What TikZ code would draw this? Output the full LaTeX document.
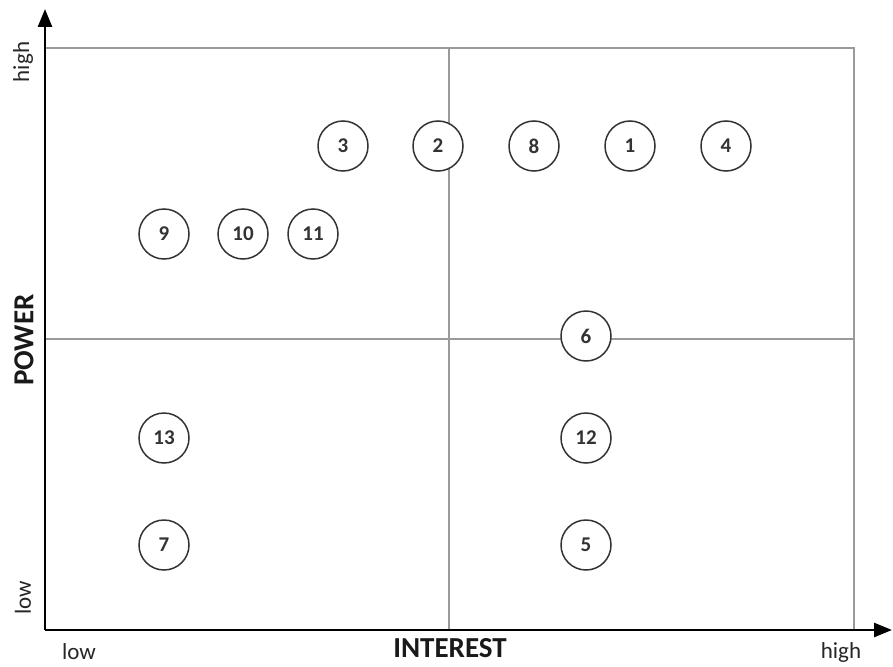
\documentclass[tikz,border=0pt]{standalone}
\usepackage{fontspec}
\setmainfont{Carlito}
\usetikzlibrary{arrows.meta}
\definecolor{gridgray}{HTML}{9A9A9A}
\definecolor{circgray}{HTML}{333333}
\begin{document}
\begin{tikzpicture}[x=1pt,y=-1pt,
  axis/.style={line width=2.6pt,-{Triangle[length=18pt,width=14pt]}},
  gridline/.style={line width=1.8pt,draw=gridgray},
  stake/.style={circle,draw=circgray,line width=1.5pt,fill=white,minimum size=50pt,inner sep=0pt,font=\fontsize{21}{21}\selectfont\bfseries,text=black!80},
  lbl/.style={font=\fontsize{23}{23}\selectfont,text=black!85},
  axlbl/.style={font=\fontsize{29}{29}\selectfont\bfseries,text=black!90}]
\useasboundingbox (0,0) rectangle (893,666);
% grid box
\coordinate (tl) at (45,48);
\coordinate (tr) at (854,48);
\coordinate (br) at (854,630);
\coordinate (mt) at (449,48);
\coordinate (mb) at (449,630);
\coordinate (ml) at (45,339);
\coordinate (mr) at (854,339);
\draw[gridline] (tl) -- (tr) -- (br);
\draw[gridline] (mt) -- (mb);
\draw[gridline] (ml) -- (mr);
% axes
\coordinate (o) at (45,630);
\coordinate (ytip) at (45,9);
\coordinate (xtip) at (892,630);
\draw[axis] (o) -- (ytip);
\draw[axis] (o) -- (xtip);
% labels
\node[lbl,rotate=90] (yhigh) at (23,62) {high};
\node[lbl,rotate=90] (ylow) at (23,598) {low};
\node[axlbl,rotate=90] (power) at (24,340) {POWER};
\node[lbl] (xlow) at (79,652) {low};
\node[axlbl] (interest) at (450,648) {INTEREST};
\node[lbl] (xhigh) at (841,652) {high};
% stakeholders
\node[stake] (s3) at (343,146) {3};
\node[stake] (s2) at (438,146) {2};
\node[stake] (s8) at (534,146) {8};
\node[stake] (s1) at (630,146) {1};
\node[stake] (s4) at (726,146) {4};
\node[stake] (s9) at (164,234) {9};
\node[stake] (s10) at (243,234) {10};
\node[stake] (s11) at (313,234) {11};
\node[stake] (s6) at (586,336) {6};
\node[stake] (s13) at (164,438) {13};
\node[stake] (s12) at (586,438) {12};
\node[stake] (s7) at (164,545) {7};
\node[stake] (s5) at (586,545) {5};
\end{tikzpicture}
\end{document}
